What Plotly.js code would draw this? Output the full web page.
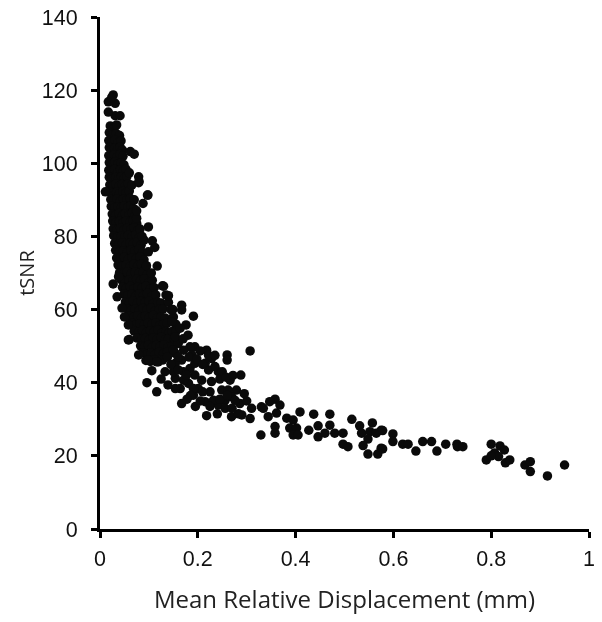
<!DOCTYPE html>
<html><head><meta charset="utf-8">
<script src="https://cdn.plot.ly/plotly-3.0.1.min.js"></script>
<style>html,body{margin:0;padding:0;background:#fff}#chart{width:602px;height:622px;filter:blur(0.6px)}</style>
</head><body><div id="chart"></div>
<script>
// dense band, read row by row
const denseX = [
.021,.029,.034,
.019,.026,.033,.040,
.018,.025,.031,.037,.043,
.019,.024,.030,.036,.041,.046,
.018,.024,.029,.035,.041,.047,
.019,.025,.031,.037,.043,.049,
.018,.024,.030,.036,.042,.048,.053,
.019,.025,.032,.038,.044,.050,.055,
.020,.026,.033,.039,.045,.052,.058,
.021,.027,.034,.040,.047,.053,.060,
.022,.028,.035,.042,.048,.055,.062,
.023,.030,.037,.043,.050,.057,.063,.069,
.025,.032,.039,.046,.052,.059,.066,.072,
.026,.033,.040,.047,.054,.061,.068,.075,
.027,.035,.042,.049,.056,.063,.070,.077,
.028,.036,.044,.051,.058,.066,.073,.080,
.030,.038,.046,.053,.061,.068,.076,.084,
.032,.040,.048,.056,.063,.071,.079,.087,
.034,.042,.050,.058,.066,.074,.082,.090,
.037,.045,.053,.061,.069,.077,.085,.094,
.040,.048,.056,.064,.072,.080,.088,.097,
.043,.051,.059,.067,.075,.083,.091,.100,.107,
.046,.054,.062,.070,.078,.086,.094,.103,.111,
.049,.057,.065,.073,.081,.089,.097,.106,.114,
.052,.060,.068,.076,.084,.092,.100,.109,.118,.125,
.056,.064,.072,.080,.088,.096,.104,.112,.121,.129,
.060,.069,.077,.085,.093,.101,.109,.117,.125,.133,
.066,.074,.082,.090,.098,.106,.114,.122,.130,.137,
.070,.079,.087,.095,.103,.111,.119,.127,.135,.142,
.076,.085,.093,.101,.109,.117,.125,.133,.140,
.083,.091,.099,.107,.115,.123,.131,.139,.147,
.088,.097,.105,.113,.121,.130,.138,
.094,.103,.111,.119,.128,
.128,.135,.140,.145,.148,.150,.152,.155,.155,
.065,.070,.075,.082,.090,.095,.105];
const denseY = [
110.2,109.6,110.5,
108.4,107.8,108.1,107.6,
106.2,105.8,106.4,105.6,106.1,
104.3,103.7,104.1,103.9,104.4,103.6,
102.1,101.8,102.3,101.6,102.4,101.9,
100.2,99.7,100.4,99.9,100.1,99.6,
98.1,97.8,98.3,97.6,98.2,97.9,98.4,
96.2,95.8,96.1,95.7,96.3,95.9,96.4,
94.1,93.8,94.3,93.7,94.2,93.9,94.4,
92.2,91.8,92.1,91.7,92.3,91.9,92.4,
90.1,89.8,90.3,89.7,90.2,89.9,90.4,
88.2,87.8,88.1,87.7,88.3,87.9,88.4,87.6,
86.1,85.8,86.3,85.7,86.2,85.9,86.4,85.6,
84.2,83.8,84.1,83.7,84.3,83.9,84.4,83.6,
82.1,81.8,82.3,81.7,82.2,81.9,82.4,81.6,
80.2,79.8,80.1,79.7,80.3,79.9,80.4,79.6,
78.1,77.8,78.3,77.7,78.2,77.9,78.4,77.6,
76.2,75.8,76.1,75.7,76.3,75.9,76.4,75.6,
74.1,73.8,74.3,73.7,74.2,73.9,74.4,73.6,
72.2,71.8,72.1,71.7,72.3,71.9,72.4,71.6,
70.1,69.8,70.3,69.7,70.2,69.9,70.4,69.6,
68.2,67.8,68.1,67.7,68.3,67.9,68.4,67.6,68.0,
66.1,65.8,66.3,65.7,66.2,65.9,66.4,65.6,66.0,
64.2,63.8,64.1,63.7,64.3,63.9,64.4,63.6,64.0,
62.1,61.8,62.3,61.7,62.2,61.9,62.4,61.6,62.0,61.8,
60.2,59.8,60.1,59.7,60.3,59.9,60.4,59.6,60.0,60.2,
58.1,57.8,58.3,57.7,58.2,57.9,58.4,57.6,58.0,57.7,
56.2,55.8,56.1,55.7,56.3,55.9,56.4,55.6,56.0,56.2,
54.1,53.8,54.3,53.7,54.2,53.9,54.4,53.6,54.0,53.8,
52.2,51.8,52.1,51.7,52.3,51.9,52.4,51.6,52.0,
50.1,49.8,50.3,49.7,50.2,49.9,50.4,49.6,50.0,
48.2,47.8,48.1,47.7,48.3,47.9,48.4,
46.1,45.8,46.3,45.7,46.2,
66.5,64,62,60,54,58,52,56,54,
94,90,85,82,79,72,70];
// points around the edge of the band
const edgeX = [.027,.017,.031,.024,.031,.041,.017,.062,.070,.060,.079,.079,.097,.011,
.098,.088,.080,.099,.107,.099,.117,.130,.140,.149,.027,.058,.035,.045,.058,.112,.086,.075,.038,.050];
const edgeY = [118.7,116.8,116.4,118.0,113,113,114,103.2,102.5,97.4,96.3,94.7,91.3,92.2,
91.3,89,95,82.6,78.8,75.8,71.9,66.4,63.8,60,67,51.7,63.5,60.4,55.8,77,80,87,69,58];
// middle cloud
const midX = [.191,.176,.167,.167,.307,.260,.260,.288,.194,.218,.184,.205,.228,.242,.266,.279,.286,.310,.330,.307,.269,.218,.167,.116,.096,.106,.139,.154,.164,.191,.215,.225,.249,.256,.269,.290,.242,.256,.184,.167,.154,.222,.208,.181,.133,.194,.228,.154,.171,.079,.099,.116,.060,.160,.154,.164,.147,
.171,.171,.194,.215,.235,.188,.177,.150,.201,.232,.262,.276,.154,.191,
.138,.145,.160,.182,.198,.210,.222,.235,.245,.250,.258,.272,.185,.178,.195,.205,.225,.245,.260,.283,.295,.300,.270,.210,.240,.150,.180,.170,.160,.125];
const midY = [58.2,55.8,61.2,59.9,48.7,47.6,46.2,42.1,49.8,48.9,49.8,48.7,46.6,43,40.7,38,34.3,33,33.4,30.2,30.7,31,34.3,37.5,40,43.3,39.4,41.2,38.4,36.6,34.8,37.5,38,35.2,36.2,31.2,33.9,33,43.9,46.2,45.3,43.5,40.7,39.8,43,42.1,40.3,48,48.9,47.6,46.2,45.7,51.8,50.7,52.6,54.9,56.7,
43,40.7,45.3,45.3,44.4,47.6,42.1,43,38.4,35.2,38,35.2,38.4,38.4,
47,45,43.5,47,46.5,45,47.5,47.5,41,43,41.5,42,36.5,35.5,33.5,35,33.5,35.5,36.5,31.5,37,35,33,37.5,31.5,49,53,52,47,41];
// long tail
const tailX = [.329,.358,.347,.368,.334,.344,.361,.382,.395,.358,.358,.388,.402,.395,.405,.409,.427,.437,.446,.446,.47,.47,.46,.48,.497,.497,.507,.515,.531,.535,.557,.552,.575,.565,.548,.538,.548,.568,.575,
.578,.578,.599,.599,.619,.63,.646,.66,.678,.689,.707,.73,.731,.742,.8,.818,.827,.807,.815,.79,.8,.829,.838,.869,.88,.88,.915,.95];
const tailY = [25.7,35.5,34.8,33.9,33,30.7,31.7,30.3,29.8,28,26.2,27.6,27.6,25.7,25.7,32,27,31.4,28.2,25.2,31.4,28.4,26.2,26.2,26.2,23.2,22.5,30,28.2,26.2,29,26.6,27,26.2,24.6,22.8,20.5,20.5,22.1,
26.9,21.9,26,23.9,23.2,23.2,21.3,23.9,23.9,21.3,23.2,23.2,22.5,22.5,23.2,22.7,21.6,20.8,19.8,18.9,20,18.1,18.9,17.5,18.4,15.7,14.5,17.5];
const xTicks = [0,0.2,0.4,0.6,0.8,1];
const xTickLabels = ["0","0.2","0.4","0.6","0.8","1"];
const yTicks = [0,20,40,60,80,100,120,140];
const xName = "Mean Relative Displacement (mm)";
const yName = "tSNR";

const allX = denseX.concat(edgeX, midX, tailX);
const allY = denseY.concat(edgeY, midY, tailY);
Plotly.newPlot("chart", [{
  type:"scatter", mode:"markers", x:allX, y:allY, cliponaxis:false,
  marker:{color:"#0a0a0a", size:9.5, line:{width:0}}
}], {
  width:602, height:622, showlegend:false, paper_bgcolor:"#fff", plot_bgcolor:"#fff",
  margin:{l:99.5,r:12.5,t:17,b:93},
  font:{family:"Liberation Sans, Arial, sans-serif", color:"#111", size:21},
  xaxis:{range:[0,1], tickmode:"array", tickvals:xTicks, ticktext:xTickLabels, showgrid:false, zeroline:false,
    showline:true, linewidth:3, linecolor:"#000", ticks:"outside", ticklen:6, tickwidth:3, tickcolor:"#000",
    ticklabelstandoff:2,
    tickfont:{size:21.5}, title:{text:xName, standoff:22, font:{family:"Open Sans, sans-serif", size:24, color:"#222"}}},
  yaxis:{range:[0,140], tickmode:"array", tickvals:yTicks, showgrid:false, zeroline:false,
    showline:true, linewidth:3, linecolor:"#000", ticks:"outside", ticklen:6, tickwidth:3, tickcolor:"#000",
    ticklabelstandoff:9,
    tickfont:{size:21.5}, title:{text:yName, standoff:2, font:{family:"Open Sans, sans-serif", size:20, color:"#222"}}}
}, {displayModeBar:false, staticPlot:true});
</script></body></html>
